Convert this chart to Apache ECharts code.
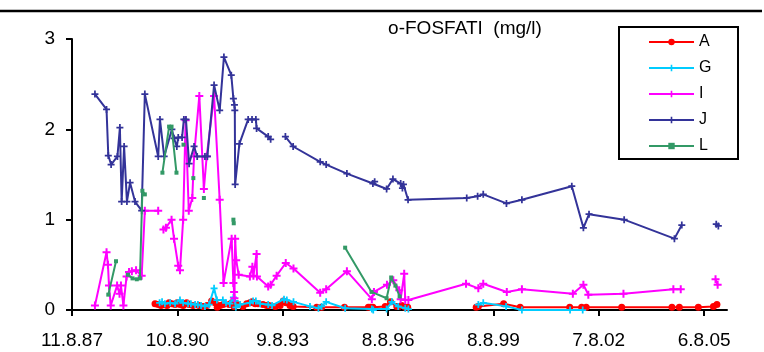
<!DOCTYPE html>
<html>
<head>
<meta charset="utf-8">
<script src="https://cdn.jsdelivr.net/npm/echarts@6/dist/echarts.min.js"></script>
<style>
html,body{margin:0;padding:0;background:#fff;}
#c{width:764px;height:352px;}
</style>
</head>
<body>
<div id="c"></div>
<script>
// X values are dates written as decimal years; null marks a break in the line
const tickDates = ['1987-08-11','1990-08-10','1993-08-09','1996-08-08','1999-08-08','2002-08-07','2005-08-06'];
const tickLabels = ['11.8.87','10.8.90','9.8.93','8.8.96','8.8.99','7.8.02','6.8.05'];
const axisStart = '1987-08-11';
const axisEnd = '2006-04-01';
const yTicks = [0, 1, 2, 3];
const seriesNames = ['A','G','I','J','L'];

const seriesA = [[1989.97,0.07],[1990.06,0.06],[1990.14,0.05],[1990.21,0.06],[1990.31,0.05],[1990.37,0.08],[1990.45,0.07],[1990.54,0.06],[1990.60,0.08],[1990.68,0.06],[1990.77,0.05],[1990.87,0.08],[1990.94,0.06],[1991.05,0.05],[1991.22,0.05],[1991.34,0.04],[1991.45,0.05],[1991.58,0.10],[1991.68,0.08],[1991.74,0.03],[1991.82,0.05],[1991.91,0.06],[1992.08,0.06],[1992.15,0.08],[1992.22,0.04],[1992.30,0.06],[1992.47,0.04],[1992.58,0.07],[1992.67,0.08],[1992.73,0.09],[1992.82,0.07],[1992.90,0.07],[1993.04,0.06],[1993.15,0.05],[1993.21,0.05],[1993.39,0.04],[1993.53,0.05],[1993.62,0.10],[1993.70,0.08],[1993.81,0.05],[1993.90,0.04],[1994.57,0.03],[1994.71,0.03],[1995.36,0.03],[1996.04,0.03],[1996.10,0.03],[1996.17,0.03],[1996.52,0.04],[1996.67,0.09],[1996.85,0.04],[1996.90,0.04],[1996.99,0.05],[1997.09,0.03],[1997.16,0.03],null,[1999.11,0.03],[1999.17,0.04],[1999.89,0.07],[2000.36,0.03],[2001.77,0.03],[2002.11,0.03],[2002.24,0.03],[2003.25,0.03],[2004.68,0.03],[2004.89,0.03],[2005.43,0.03],[2005.86,0.04],[2005.96,0.06]];

const seriesG = [[1990.10,0.08],[1990.17,0.09],[1990.25,0.07],[1990.40,0.08],[1990.54,0.07],[1990.68,0.11],[1990.77,0.08],[1990.91,0.07],[1990.99,0.07],[1991.11,0.06],[1991.19,0.06],[1991.28,0.05],[1991.39,0.04],[1991.51,0.06],[1991.65,0.24],[1991.73,0.11],[1991.90,0.11],[1991.99,0.08],[1992.10,0.07],[1992.20,0.14],[1992.25,0.10],[1992.27,0.03],[1992.39,0.06],[1992.67,0.08],[1992.76,0.10],[1992.84,0.10],[1992.96,0.07],[1993.19,0.06],[1993.30,0.05],[1993.64,0.12],[1993.72,0.11],[1993.91,0.09],[1994.38,0.04],[1994.62,0.02],[1994.71,0.04],[1994.84,0.09],[1995.38,0.02],[1996.14,0.01],[1996.18,0.00],[1996.56,0.01],[1996.71,0.09],[1996.89,0.04],[1997.09,0.02],[1997.18,0.01],null,[1999.17,0.06],[1999.31,0.08],[1999.96,0.04],[2000.41,0.00],[2001.78,0.00],[2002.14,0.00]];

const seriesI = [[1988.26,0.05],[1988.59,0.64],[1988.63,0.50],[1988.66,0.27],[1988.71,0.05],[1988.89,0.27],[1988.96,0.18],[1989.00,0.27],[1989.07,0.05],[1989.16,0.37],[1989.23,0.42],[1989.31,0.43],[1989.43,0.44],[1989.59,0.38],[1989.68,1.10],[1990.06,1.10],null,[1990.21,0.89],[1990.28,0.91],[1990.44,1.00],[1990.51,0.79],[1990.63,0.49],[1990.68,0.44],[1990.77,1.00],[1990.84,2.10],[1990.93,1.10],[1991.03,1.24],[1991.08,1.70],[1991.23,2.37],[1991.36,1.34],[1991.44,1.70],[1991.65,2.37],[1991.81,1.22],[1991.92,0.30],[1992.15,0.79],[1992.20,0.30],[1992.22,0.20],[1992.23,0.13],[1992.25,0.79],[1992.28,0.55],[1992.35,0.39],[1992.67,0.37],[1992.74,0.48],[1992.77,0.38],[1992.86,0.62],[1992.87,0.37],[1993.19,0.26],[1993.26,0.28],[1993.43,0.38],[1993.69,0.52],[1993.91,0.46],[1994.67,0.19],[1994.84,0.23],[1995.43,0.43],[1996.14,0.12],[1996.20,0.20],[1996.57,0.28],[1996.75,0.33],[1996.92,0.22],[1996.96,0.12],[1997.06,0.40],[1997.09,0.11],[1997.18,0.11],[1998.82,0.29],[1999.17,0.24],[1999.31,0.29],[1999.98,0.20],[2000.41,0.23],[2001.86,0.18],[2002.16,0.28],[2002.30,0.17],[2003.30,0.18],[2004.72,0.23],[2004.93,0.23],null,[2005.92,0.34],[2005.98,0.28]];

const seriesJ = [[1988.26,2.39],[1988.59,2.22],[1988.64,1.71],[1988.72,1.61],[1988.90,1.70],[1988.97,2.02],[1989.02,1.20],[1989.09,1.81],[1989.17,1.20],[1989.26,1.41],[1989.40,1.20],[1989.59,1.10],[1989.68,2.39],[1990.06,1.70],[1990.11,2.11],[1990.23,1.70],[1990.45,2.00],[1990.51,1.90],[1990.59,1.81],[1990.63,1.91],[1990.74,1.91],[1990.79,2.11],[1990.85,2.11],[1990.94,1.62],[1991.08,1.81],[1991.17,1.70],[1991.39,1.70],[1991.46,1.70],[1991.65,2.49],[1991.81,2.21],[1991.93,2.80],[1992.14,2.60],[1992.20,2.34],[1992.23,2.27],[1992.24,2.21],[1992.25,1.39],[1992.37,1.84],[1992.62,2.11],[1992.73,2.11],[1992.84,2.11],[1992.86,2.01],[1993.19,1.92],[1993.26,1.89],null,[1993.68,1.92],[1993.90,1.81],[1994.67,1.64],[1994.84,1.61],[1995.43,1.51],[1996.17,1.40],[1996.22,1.42],[1996.56,1.34],[1996.74,1.45],[1996.96,1.40],[1997.01,1.35],[1997.04,1.39],[1997.17,1.22],[1998.84,1.24],[1999.15,1.26],[1999.31,1.28],[1999.97,1.18],[2000.41,1.22],[2001.83,1.37],[2002.16,0.91],[2002.32,1.06],[2003.32,1.00],[2004.75,0.79],[2004.96,0.94],null,[2005.94,0.95],[2006.00,0.93]];

const seriesL = [[1988.64,0.17],[1988.86,0.54],null,[1989.20,0.39],[1989.33,0.35],[1989.45,0.34],[1989.54,0.35],[1989.61,1.32],[1989.68,1.28],null,[1990.18,1.52],[1990.37,2.03],[1990.44,2.03],[1990.58,1.52],null,[1990.78,1.83],null,[1991.06,1.46],null,[1991.36,1.24],null,[1992.20,1.00],[1992.21,0.96],null,[1995.38,0.69],[1996.13,0.20],[1996.56,0.13],[1996.69,0.36],[1996.81,0.27],[1996.93,0.15]];

function decYear(s) {
  const p = s.split('-').map(Number);
  return 1970 + Date.UTC(p[0], p[1] - 1, p[2]) / 86400000 / 365.25;
}
const tickPos = tickDates.map(decYear);
function prep(arr) { return arr.map(p => p ? p : ['-', '-']); }

const plus = 'path://M3,0H5V3H8V5H5V8H3V5H0V3H3Z';
const colors = ['#FF0000', '#00CCFF', '#FF00FF', '#333399', '#339966'];
const symbols = ['circle', plus, plus, plus, 'rect'];
const sizes = [7, 7, 8, 7, 4];
const datas = [seriesA, seriesG, seriesI, seriesJ, seriesL];
const FONT = 'Liberation Sans, Arial, sans-serif';

const chart = echarts.init(document.getElementById('c'), null, {renderer: 'canvas'});
chart.setOption({
  animation: false,
  backgroundColor: '#ffffff',
  grid: {left: 72, right: 37, top: 39, bottom: 42, containLabel: false, outerBoundsMode: 'none'},
  xAxis: {
    type: 'value',
    min: decYear(axisStart),
    max: decYear(axisEnd),
    axisLine: {show: true, lineStyle: {color: '#000', width: 2}},
    axisTick: {show: true, inside: false, length: 6, lineStyle: {color: '#000', width: 2}, customValues: tickPos},
    axisLabel: {
      show: true, margin: 21, color: '#000', fontSize: 19, fontFamily: FONT,
      customValues: tickPos,
      formatter: function (v) {
        for (let i = 0; i < tickPos.length; i++) if (Math.abs(tickPos[i] - v) < 1e-6) return tickLabels[i];
        return '';
      }
    },
    splitLine: {show: false}
  },
  yAxis: {
    type: 'value', min: yTicks[0], max: yTicks[yTicks.length - 1], interval: 1,
    axisLine: {show: true, lineStyle: {color: '#000', width: 2}},
    axisTick: {show: true, inside: false, length: 6, lineStyle: {color: '#000', width: 2}},
    axisLabel: {margin: 17, color: '#000', fontSize: 19, fontFamily: FONT},
    splitLine: {show: false}
  },
  legend: {
    data: seriesNames,
    orient: 'vertical',
    left: 648, top: 34,
    itemWidth: 45, itemHeight: 8, itemGap: 10,
    padding: 0,
    textStyle: {fontSize: 16, color: '#000', fontFamily: FONT}
  },
  graphic: [
    {type: 'rect', shape: {x: 619, y: 27, width: 119, height: 132}, style: {fill: '#fff', stroke: '#000', lineWidth: 2}, z: 0},
    {type: 'line', shape: {x1: 0, y1: 11, x2: 762, y2: 11}, style: {stroke: '#000', lineWidth: 2.5}},
    {type: 'text', x: 465, y: 29, style: {text: 'o-FOSFATI  (mg/l)', fontSize: 19, fontFamily: FONT, fill: '#000', align: 'center', verticalAlign: 'middle'}}
  ],
  series: seriesNames.map((n, i) => ({
    name: n,
    type: 'line',
    data: prep(datas[i]),
    connectNulls: false,
    showSymbol: true,
    showAllSymbol: true,
    symbol: symbols[i],
    symbolSize: sizes[i],
    lineStyle: {color: colors[i], width: 2},
    itemStyle: {color: colors[i], borderWidth: 0},
    emphasis: {disabled: true},
    z: 2 + i
  }))
});
</script>
</body>
</html>
